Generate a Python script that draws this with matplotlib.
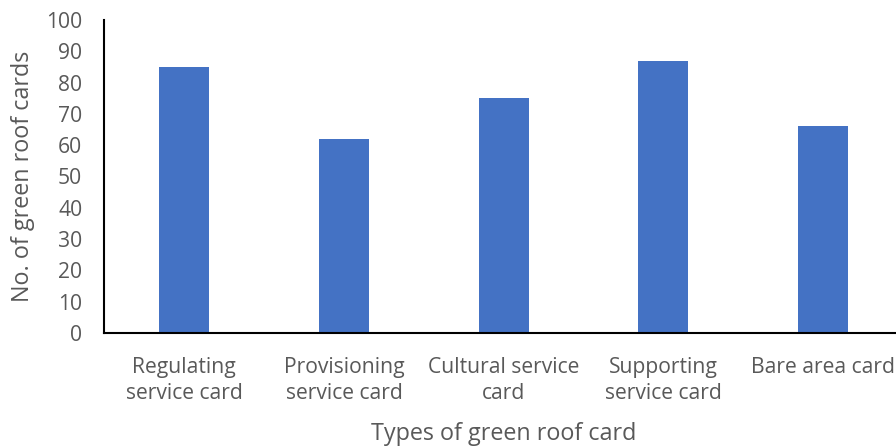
import matplotlib.pyplot as plt

plt.rcParams['font.family'] = ['Open Sans', 'DejaVu Sans']

categories = ["Regulating\nservice card", "Provisioning\nservice card",
              "Cultural service\ncard", "Supporting\nservice card", "Bare area card"]
counts = [85, 62, 75, 87, 66]

bar_color = "#4472C4"
text_color = "#595959"

fig = plt.figure(figsize=(8.96, 4.47), dpi=100)
ax = fig.add_axes([0.1166, 0.2550, 0.8912, 0.7003])

x = range(len(categories))
ax.bar(x, counts, width=0.313, color=bar_color)

ax.set_xlim(-0.5, len(categories) - 0.5)
ax.set_ylim(0, 100)
ax.set_yticks(range(0, 101, 10))
ax.set_xticks(list(x))
ax.set_xticklabels(categories, fontsize=15.2, color=text_color, linespacing=1.35)
ax.tick_params(axis='y', labelsize=15.2, labelcolor=text_color, length=0, pad=16)
ax.tick_params(axis='x', length=0, pad=17)

for side in ['top', 'right']:
    ax.spines[side].set_visible(False)
for side in ['left', 'bottom']:
    ax.spines[side].set_color('black')
    ax.spines[side].set_linewidth(1.5)

ax.set_xlabel("Types of green roof card", fontsize=16.8, color=text_color, labelpad=13)
ax.set_ylabel("No. of green roof cards", fontsize=16.8, color=text_color, labelpad=8)

fig.savefig("out.png", dpi=100)
